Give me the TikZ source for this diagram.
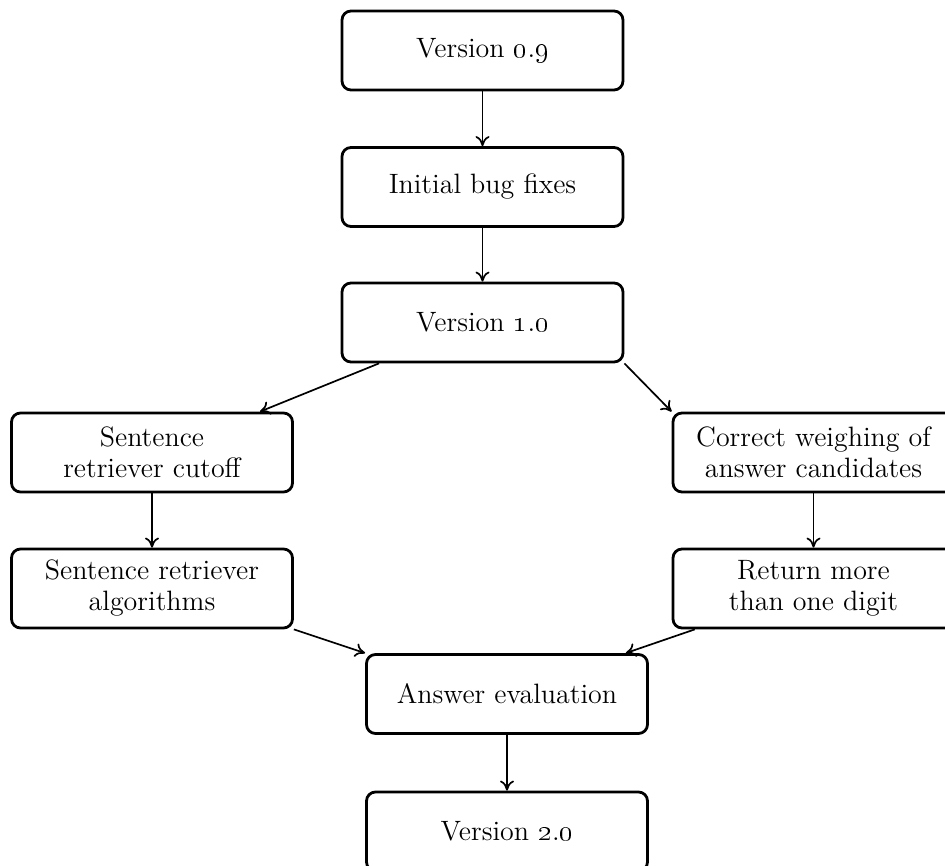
\documentclass[tikz,border=0pt]{standalone}
\usetikzlibrary{arrows.meta}
\begin{document}
\begin{tikzpicture}[x=0.5pt,y=-0.5pt,
  box/.style={draw, line width=1.4pt, rounded corners=4.5pt, minimum width=140.5pt, minimum height=39.5pt, align=center, inner sep=2pt, font=\fontsize{14}{15.5}\selectfont},
  arr/.style={line width=0.85pt, -{To[length=5pt,width=7pt,line width=0.85pt]}}]
\useasboundingbox (0,0) rectangle (945,865);
\node[box] (v09) at (482.5,50.5) {Version \oldstylenums{0}.\oldstylenums{9}};
\node[box] (ibf) at (482.5,187) {Initial bug fixes};
\node[box] (v10) at (482.5,322.5) {Version \oldstylenums{1}.\oldstylenums{0}};
\node[box] (sc) at (152,452.5) {Sentence\\retriever cutoff};
\node[box] (cw) at (813.5,452.5) {Correct weighing of\\answer candidates};
\node[box] (sa) at (152,588.5) {Sentence retriever\\algorithms};
\node[box] (rm) at (813.5,588.5) {Return more\\than one digit};
\node[box] (ae) at (507,694) {Answer evaluation};
\node[box] (v20) at (507,831.5) {Version \oldstylenums{2}.\oldstylenums{0}};
\draw[arr] (v09) -- (ibf);
\draw[arr] (ibf) -- (v10);
\draw[arr] ([xshift=-51.75pt]v10.south) -- ([xshift=54pt]sc.north);
\draw[arr] (v10.south east) -- (cw.north west);
\draw[arr] (sc) -- (sa);
\draw[arr] (cw) -- (rm);
\draw[arr] (sa.south east) -- (ae.north west);
\draw[arr] (rm) -- (ae);
\draw[arr] (ae) -- (v20);
\end{tikzpicture}
\end{document}
